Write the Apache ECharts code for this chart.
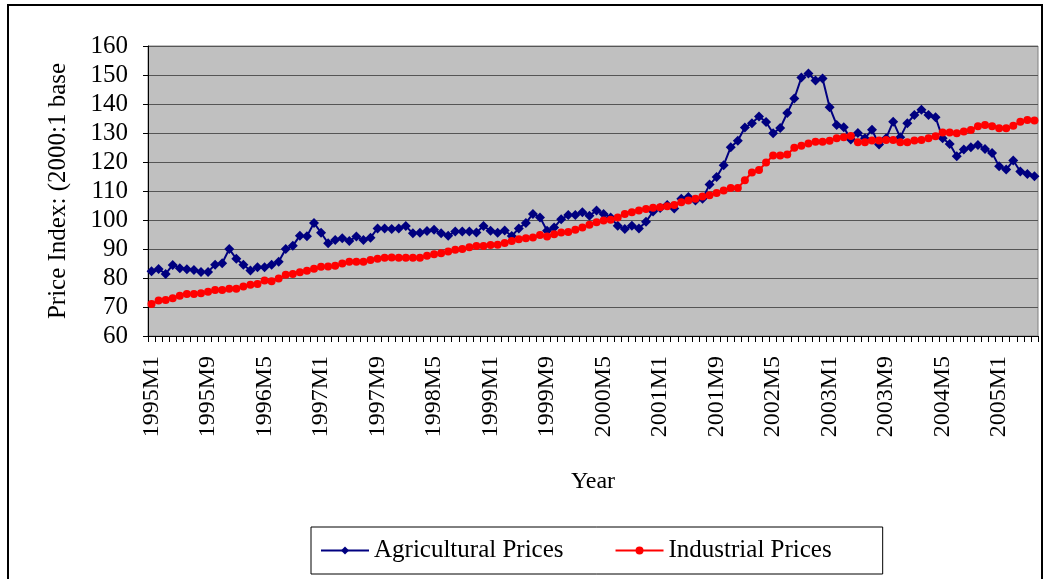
<!DOCTYPE html>
<html>
<head>
	<meta charset="UTF-8">
	<script src="https://cdn.jsdelivr.net/npm/echarts@6/dist/echarts.min.js"></script>
</head>
<body style="margin:0;background:#fff;">
<div id="chart" style="width:1046px;height:579px;"></div>
<script type="text/javascript">
        // monthly labels 1995M1 .. 2005M6
        var years = [1995, 1996, 1997, 1998, 1999, 2000, 2001, 2002, 2003, 2004, 2005]
        var months = []
        for (var y = 0; y < years.length; y++) {
            for (var m = 1; m <= 12; m++) {
                if (years[y] == 2005 && m > 6) break
                months.push(years[y] + 'M' + m)
            }
        }

        // values (2000:1 = 100)
        var agricultural = [
            82.3, 83.1, 81.4, 84.5, 83.4, 83.0, 82.8, 82.1, 82.1, 84.6, 85.1, 90.0,
            86.6, 84.6, 82.6, 83.7, 83.7, 84.6, 85.6, 90.0, 91.1, 94.6, 94.4, 99.0,
            95.6, 92.0, 93.1, 93.7, 92.8, 94.3, 93.1, 93.9, 97.1, 97.1, 96.9, 97.1,
            97.9, 95.4, 95.6, 96.2, 96.6, 95.4, 94.6, 96.0, 96.0, 96.0, 95.7, 97.9,
            96.3, 95.6, 96.4, 94.5, 97.1, 99.0, 102.1, 100.9, 96.3, 97.4, 100.3, 101.7,
            101.7, 102.7, 101.5, 103.3, 102.1, 100.9, 98.0, 96.9, 98.0, 97.1, 99.4, 102.9,
            104.1, 105.2, 104.0, 107.3, 107.9, 106.7, 107.3, 112.2, 114.8, 118.9, 125.1, 127.3,
            131.9, 133.4, 135.7, 133.8, 129.9, 131.7, 136.9, 141.9, 149.1, 150.5, 148.1, 148.8,
            138.9, 132.8, 132.0, 127.8, 130.0, 128.2, 131.1, 126.0, 128.2, 133.9, 128.5, 133.4,
            136.2, 138.0, 136.2, 135.4, 128.2, 126.2, 122.0, 124.3, 125.1, 125.9, 124.5, 123.1,
            118.5, 117.4, 120.5, 116.7, 115.9, 115.1
        ]
        var industrial = [
            71.0, 72.2, 72.4, 73.0, 73.9, 74.5, 74.5, 74.7, 75.3, 75.9, 75.9, 76.3,
            76.3, 77.1, 77.7, 77.9, 79.1, 78.9, 79.8, 81.1, 81.4, 82.0, 82.5, 83.2,
            83.9, 84.0, 84.2, 85.0, 85.6, 85.6, 85.6, 86.2, 86.6, 87.0, 87.1, 87.0,
            87.0, 87.0, 87.0, 87.7, 88.2, 88.5, 89.1, 89.7, 90.0, 90.6, 91.0, 91.0,
            91.4, 91.5, 92.1, 92.8, 93.4, 93.7, 94.0, 94.8, 94.3, 95.1, 95.7, 95.9,
            96.6, 97.4, 98.4, 99.2, 99.8, 100.1, 100.9, 102.1, 102.7, 103.3, 103.8, 104.2,
            104.4, 104.7, 105.2, 106.1, 106.7, 107.3, 108.1, 108.5, 109.3, 110.2, 111.0, 111.0,
            113.7, 116.4, 117.2, 119.8, 122.2, 122.2, 122.6, 124.9, 125.6, 126.4, 127.0, 127.0,
            127.3, 128.2, 128.5, 129.0, 126.8, 126.8, 127.4, 127.4, 127.6, 127.6, 126.8, 126.8,
            127.4, 127.6, 128.2, 128.9, 130.2, 130.2, 129.9, 130.5, 131.0, 132.3, 132.8, 132.3,
            131.6, 131.6, 132.5, 133.9, 134.5, 134.3
        ]

        var FONT = 'Liberation Serif'

        var myChart = echarts.init(document.getElementById('chart'))

        var option = {
            animation: false,
            backgroundColor: '#fff',
            textStyle: { fontFamily: FONT, color: '#000' },
            graphic: [{
                type: 'rect',
                shape: { x: 8, y: 5, width: 1034, height: 590 },
                style: { fill: null, stroke: '#000', lineWidth: 2 },
                silent: true
            }],
            grid: {
                left: 148, top: 46, right: 8, bottom: 243,
                show: true,
                backgroundColor: '#c0c0c0',
                borderColor: '#808080',
                borderWidth: 1
            },
            legend: {
                left: 311, top: 527,
                padding: [11, 51, 11, 9],
                borderColor: '#000', borderWidth: 1,
                itemWidth: 48, itemHeight: 10, itemGap: 51,
                textStyle: { fontFamily: FONT, fontSize: 25, color: '#000' },
                data: ['Agricultural Prices', 'Industrial Prices']
            },
            xAxis: {
                type: 'category',
                data: months,
                boundaryGap: true,
                name: 'Year',
                nameLocation: 'middle',
                nameGap: 134,
                nameTextStyle: { fontFamily: FONT, fontSize: 24, color: '#000' },
                axisLine: { lineStyle: { color: '#000', width: 1 } },
                axisTick: { show: true, interval: 0, length: 6, lineStyle: { color: '#000', width: 1 } },
                axisLabel: {
                    interval: 7, rotate: 90, margin: 20,
                    fontFamily: FONT, fontSize: 24, color: '#000'
                },
                splitLine: { show: false }
            },
            yAxis: {
                type: 'value',
                min: 60, max: 160, interval: 10,
                name: 'Price Index: (2000:1 base',
                nameLocation: 'middle',
                nameGap: 77,
                nameRotate: 90,
                nameTextStyle: { fontFamily: FONT, fontSize: 25, color: '#000' },
                axisLine: { show: true, lineStyle: { color: '#000', width: 1 } },
                axisTick: { show: true, length: 5, lineStyle: { color: '#000' } },
                axisLabel: { margin: 20, fontFamily: FONT, fontSize: 25, color: '#000' },
                splitLine: { lineStyle: { color: '#555', width: 1 } }
            },
            series: [{
                name: 'Agricultural Prices',
                type: 'line',
                data: agricultural,
                symbol: 'diamond',
                symbolSize: 10,
                showAllSymbol: true,
                color: '#000080',
                lineStyle: { width: 2, color: '#000080' },
                itemStyle: { color: '#000080' }
            }, {
                name: 'Industrial Prices',
                type: 'line',
                data: industrial,
                symbol: 'circle',
                symbolSize: 8,
                showAllSymbol: true,
                color: '#ff0000',
                lineStyle: { width: 2, color: '#ff0000' },
                itemStyle: { color: '#ff0000' }
            }]
        }

        myChart.setOption(option)
</script>
</body>
</html>
